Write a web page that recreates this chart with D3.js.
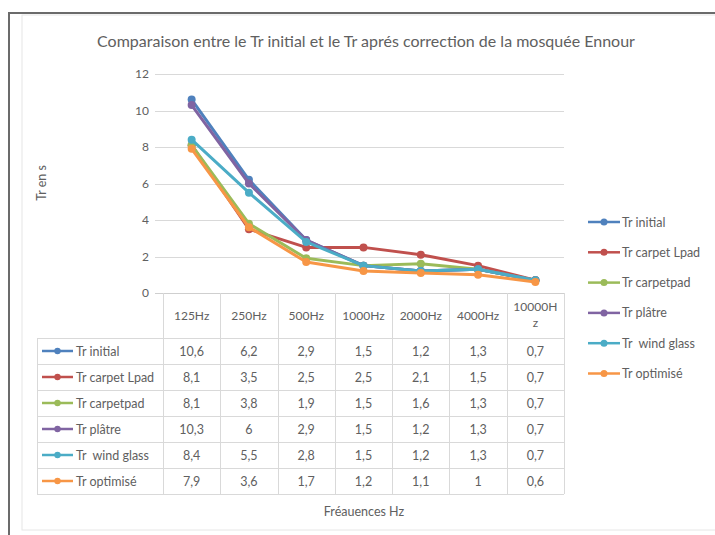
<!DOCTYPE html>
<html>
<head>
<meta charset="utf-8">
<script src="https://cdn.jsdelivr.net/npm/d3@7"></script>
<style>
  html, body { margin: 0; padding: 0; background: #ffffff; }
  svg { display: block; }
  text { font-family: Lato, "Open Sans", sans-serif; fill: #606060; }
</style>
</head>
<body>
<svg id="chart" width="715" height="535"></svg>
<script>
// Reverberation times (s) per octave band for each treatment
const categories = ["125Hz", "250Hz", "500Hz", "1000Hz", "2000Hz", "4000Hz", "10000Hz"];
const seriesNames = ["Tr initial", "Tr carpet Lpad", "Tr carpetpad", "Tr plâtre", "Tr  wind glass", "Tr optimisé"];
const trInitial   = [10.6, 6.2, 2.9, 1.5, 1.2, 1.3, 0.7];
const trCarpetL   = [8.1, 3.5, 2.5, 2.5, 2.1, 1.5, 0.7];
const trCarpetpad = [8.1, 3.8, 1.9, 1.5, 1.6, 1.3, 0.7];
const trPlatre    = [10.3, 6, 2.9, 1.5, 1.2, 1.3, 0.7];
const trWindGlass = [8.4, 5.5, 2.8, 1.5, 1.2, 1.3, 0.7];
const trOptimise  = [7.9, 3.6, 1.7, 1.2, 1.1, 1, 0.6];
const yTicks = [0, 2, 4, 6, 8, 10, 12];
const titleText = "Comparaison entre le Tr initial et le Tr aprés correction de la mosquée Ennour";
const yTitle = "Tr en s";
const xTitle = "Fréauences Hz";

const seriesValues = [trInitial, trCarpetL, trCarpetpad, trPlatre, trWindGlass, trOptimise];
const colors = ["#4f81bd", "#c0504d", "#9bbb59", "#8064a2", "#4bacc6", "#f79646"];
const series = seriesNames.map((name, i) => ({ name, values: seriesValues[i], color: colors[i] }));

const svg = d3.select("#chart");

// outer frame
svg.append("rect").attr("x", 22).attr("y", 15).attr("width", 720).attr("height", 515)
  .attr("fill", "none").attr("stroke", "#e6e6e6").attr("stroke-width", 1);
svg.append("path").attr("d", "M9,535 V13 H715")
  .attr("fill", "none").attr("stroke", "#6b6b6b").attr("stroke-width", 2);

const x = d3.scaleBand().domain(categories).range([163, 564]).padding(0);
const y = d3.scaleLinear().domain([0, 12]).range([293, 74]);

// title
svg.append("text").attr("x", 366).attr("y", 47).attr("text-anchor", "middle")
  .style("font-size", "16px").text(titleText);

// gridlines
const grid = svg.append("g");
grid.selectAll("line").data(yTicks.filter(d => d > 0)).join("line")
  .attr("x1", 155).attr("x2", 564)
  .attr("y1", d => Math.round(y(d)) + 0.5).attr("y2", d => Math.round(y(d)) + 0.5)
  .attr("stroke", "#d9d9d9").attr("stroke-width", 1);

// y axis labels
const yAxis = d3.axisLeft(y).tickValues(yTicks).tickSize(0).tickPadding(0)
  .tickFormat(d => String(d));
const gy = svg.append("g").attr("transform", "translate(149,0)").call(yAxis);
gy.select(".domain").remove();
gy.selectAll("text").style("font-size", "12px").attr("fill", "#606060")
  .style("font-family", "Lato, sans-serif");

// y axis title
svg.append("text").attr("transform", "translate(46,183) rotate(-90)")
  .attr("text-anchor", "middle").style("font-size", "12.5px").text(yTitle);

// data table
const tableTop = 293, headerBottom = 338, rowH = 26, labelLeft = 37;
const tableBottom = headerBottom + rowH * series.length;
const tbl = svg.append("g").attr("stroke", "#d9d9d9").attr("stroke-width", 1);
// horizontal lines
tbl.append("line").attr("x1", 155).attr("x2", 564).attr("y1", tableTop + 0.5).attr("y2", tableTop + 0.5)
  .attr("stroke", "#cfcfcf");
d3.range(series.length + 1).forEach(i => {
  const yy = headerBottom + i * rowH + 0.5;
  tbl.append("line").attr("x1", labelLeft).attr("x2", 564).attr("y1", yy).attr("y2", yy);
});
// vertical lines
categories.forEach(c => {
  const xx = Math.round(x(c)) + 0.5;
  tbl.append("line").attr("x1", xx).attr("x2", xx).attr("y1", tableTop).attr("y2", tableBottom);
});
tbl.append("line").attr("x1", 564.5).attr("x2", 564.5).attr("y1", tableTop).attr("y2", tableBottom);
tbl.append("line").attr("x1", labelLeft + 0.5).attr("x2", labelLeft + 0.5).attr("y1", headerBottom).attr("y2", tableBottom);

// header labels
const headerG = svg.append("g");
categories.forEach(c => {
  const cx = x(c) + x.bandwidth() / 2;
  if (c.length > 6) {
    headerG.append("text").attr("x", cx).attr("y", 311).attr("text-anchor", "middle")
      .style("font-size", "12px").text(c.slice(0, 6));
    headerG.append("text").attr("x", cx).attr("y", 327).attr("text-anchor", "middle")
      .style("font-size", "12px").text(c.slice(6));
  } else {
    headerG.append("text").attr("x", cx).attr("y", 320).attr("text-anchor", "middle")
      .style("font-size", "12px").text(c);
  }
});

const fmt = v => String(v).replace(".", ",");

// row keys, names and values
series.forEach((s, i) => {
  const cy = headerBottom + i * rowH + rowH / 2;
  const g = svg.append("g");
  g.append("line").attr("x1", 42).attr("x2", 73).attr("y1", cy).attr("y2", cy)
    .attr("stroke", s.color).attr("stroke-width", 2.5);
  g.append("circle").attr("cx", 57.5).attr("cy", cy).attr("r", 3.2).attr("fill", s.color);
  g.append("text").attr("x", 76).attr("y", cy + 4.5).style("font-size", "12.5px")
    .style("white-space", "pre").text(s.name);
  s.values.forEach((v, j) => {
    g.append("text").attr("x", x(categories[j]) + x.bandwidth() / 2).attr("y", cy + 4.5)
      .attr("text-anchor", "middle").style("font-size", "12.5px").text(fmt(v));
  });
});

// x axis title
svg.append("text").attr("x", 364).attr("y", 516).attr("text-anchor", "middle")
  .style("font-size", "12.5px").text(xTitle);

// series lines and markers
const line = d3.line()
  .x((d, j) => x(categories[j]) + x.bandwidth() / 2)
  .y(d => y(d));
series.forEach(s => {
  const g = svg.append("g");
  g.append("path").datum(s.values).attr("d", line)
    .attr("fill", "none").attr("stroke", s.color).attr("stroke-width", 3)
    .attr("stroke-linejoin", "round").attr("stroke-linecap", "round");
  g.selectAll("circle").data(s.values).join("circle")
    .attr("cx", (d, j) => x(categories[j]) + x.bandwidth() / 2)
    .attr("cy", d => y(d)).attr("r", 4).attr("fill", s.color);
});

// legend
series.forEach((s, i) => {
  const ly = 222 + i * 30.3;
  const g = svg.append("g");
  g.append("line").attr("x1", 588).attr("x2", 620).attr("y1", ly).attr("y2", ly)
    .attr("stroke", s.color).attr("stroke-width", 2.5);
  g.append("circle").attr("cx", 604).attr("cy", ly).attr("r", 3.5).attr("fill", s.color);
  g.append("text").attr("x", 622).attr("y", ly + 4.5).style("font-size", "12.5px")
    .style("white-space", "pre").text(s.name);
});
</script>
</body>
</html>
